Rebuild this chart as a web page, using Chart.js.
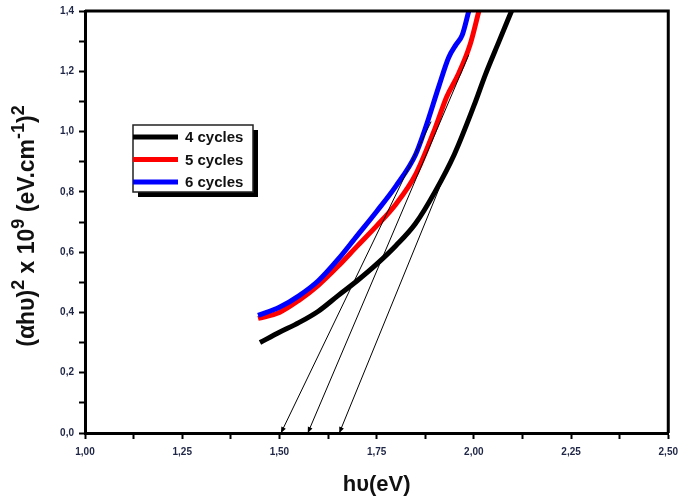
<!DOCTYPE html>
<html>
<head>
<meta charset="utf-8">
<script src="https://cdn.jsdelivr.net/npm/chart.js@4.4.0/dist/chart.umd.min.js"></script>
<style>
  html, body { margin: 0; padding: 0; background: #fff; }
  #wrap { width: 685px; height: 498px; }
</style>
</head>
<body>
<div id="wrap"><canvas id="chart" width="685" height="498"></canvas></div>
<script>
// hv (eV) against (alpha.h.v)^2 x 10^9
const hv4  = [1.45, 1.50, 1.55, 1.60, 1.65, 1.70, 1.75, 1.80, 1.85, 1.90, 1.95, 2.00, 2.03, 2.065, 2.097];
const abs4 = [0.300, 0.334, 0.366, 0.404, 0.455, 0.505, 0.560, 0.622, 0.695, 0.800, 0.925, 1.085, 1.190, 1.300, 1.400];

const hv5  = [1.445, 1.50, 1.55, 1.60, 1.65, 1.70, 1.75, 1.80, 1.85, 1.90, 1.93, 1.96, 1.99, 2.013];
const abs5 = [0.380, 0.400, 0.440, 0.490, 0.552, 0.620, 0.687, 0.760, 0.857, 1.010, 1.115, 1.190, 1.287, 1.400];

const hv6  = [1.445, 1.50, 1.55, 1.60, 1.65, 1.70, 1.75, 1.80, 1.85, 1.875, 1.91, 1.935, 1.955, 1.97, 1.987];
const abs6 = [0.390, 0.417, 0.455, 0.505, 0.575, 0.655, 0.735, 0.820, 0.923, 1.010, 1.150, 1.245, 1.290, 1.320, 1.400];

// extrapolated tangents, first point sits on the energy axis
const fit4X = [1.654, 1.936], fit4Y = [0, 0.891];
const fit5X = [1.573, 1.987], fit5Y = [0, 1.255];
const fit6X = [1.504, 1.890], fit6Y = [0, 1.033];

const seriesNames = ['4 cycles', '5 cycles', '6 cycles'];
const xTickLabels = ['1,00', '1,25', '1,50', '1,75', '2,00', '2,25', '2,50'];
const yTickLabels = ['0,0', '0,2', '0,4', '0,6', '0,8', '1,0', '1,2', '1,4'];

const pts = (xs, ys) => xs.map((x, i) => ({ x: x, y: ys[i] }));
const FONT = '"Liberation Sans", Arial, sans-serif';
const labelColor = '#1e2545';

const curve = (label, xs, ys, color, order) => ({
  label: label, data: pts(xs, ys), borderColor: color, backgroundColor: color,
  borderWidth: 5, pointRadius: 0, cubicInterpolationMode: 'monotone', order: order
});
const tangent = (xs, ys) => ({
  label: '', data: pts(xs, ys), borderColor: '#000', borderWidth: 1,
  pointRadius: 0, order: 0, isFit: true
});

// frame, titles, legend and arrow heads
const extras = {
  id: 'extras',
  afterDatasetsDraw(chart) {
    const ctx = chart.ctx;
    const a = chart.chartArea;
    ctx.save();

    // top + right frame
    ctx.strokeStyle = '#000';
    ctx.lineWidth = 3;
    ctx.beginPath();
    ctx.moveTo(a.left, a.top);
    ctx.lineTo(a.right, a.top);
    ctx.lineTo(a.right, a.bottom);
    ctx.stroke();

    // arrow heads at the bottom end of each tangent
    chart.data.datasets.forEach((ds, i) => {
      if (!ds.isFit) return;
      const p = chart.getDatasetMeta(i).data;
      const x0 = p[0].x, y0 = p[0].y, x1 = p[1].x, y1 = p[1].y;
      const ang = Math.atan2(y0 - y1, x0 - x1);
      const L = 6, W = 2.5;
      ctx.fillStyle = '#000';
      ctx.beginPath();
      ctx.moveTo(x0, y0);
      ctx.lineTo(x0 - L * Math.cos(ang) + W * Math.sin(ang), y0 - L * Math.sin(ang) - W * Math.cos(ang));
      ctx.lineTo(x0 - L * Math.cos(ang) - W * Math.sin(ang), y0 - L * Math.sin(ang) + W * Math.cos(ang));
      ctx.closePath();
      ctx.fill();
    });

    // legend
    const bx = 133, by = 125, bw = 120, bh = 67;
    ctx.fillStyle = '#000';
    ctx.fillRect(bx + 5, by + 5, bw, bh);
    ctx.fillStyle = '#fff';
    ctx.fillRect(bx, by, bw, bh);
    ctx.strokeStyle = '#222';
    ctx.lineWidth = 1.5;
    ctx.strokeRect(bx, by, bw, bh);
    ctx.font = 'bold 15px ' + FONT;
    ctx.textBaseline = 'middle';
    ctx.textAlign = 'left';
    seriesNames.forEach((name, i) => {
      const ds = chart.data.datasets.find(d => d.label === name);
      const yy = by + 12 + i * 22.5;
      ctx.strokeStyle = ds.borderColor;
      ctx.lineWidth = 5;
      ctx.beginPath();
      ctx.moveTo(bx, yy);
      ctx.lineTo(bx + 45, yy);
      ctx.stroke();
      ctx.fillStyle = '#111';
      ctx.fillText(name, bx + 52, yy + 1);
    });

    // x title
    ctx.fillStyle = '#111';
    ctx.font = 'bold 22px ' + FONT;
    ctx.textAlign = 'center';
    ctx.fillText('h\u03c5(eV)', (a.left + a.right) / 2, 485);

    // y title with superscripts
    const parts = [
      ['(\u03b1h\u03c5)', 0], ['2', 1], [' x 10', 0], ['9', 1],
      [' (eV.cm', 0], ['-1', 1], [')', 0], ['2', 1]
    ];
    const big = 'bold 23px ' + FONT, small = 'bold 18px ' + FONT;
    let total = 0;
    parts.forEach(p => { ctx.font = p[1] ? small : big; total += ctx.measureText(p[0]).width; });
    ctx.translate(28, (a.top + a.bottom) / 2 + 4);
    ctx.rotate(-Math.PI / 2);
    ctx.textAlign = 'left';
    let cx = -total / 2;
    parts.forEach(p => {
      ctx.font = p[1] ? small : big;
      ctx.fillText(p[0], cx, p[1] ? -9 : 0);
      cx += ctx.measureText(p[0]).width;
    });
    ctx.restore();
  }
};

new Chart(document.getElementById('chart'), {
  type: 'line',
  data: {
    datasets: [
      tangent(fit4X, fit4Y),
      tangent(fit5X, fit5Y),
      tangent(fit6X, fit6Y),
      curve(seriesNames[2], hv6, abs6, '#0000ff', 1),
      curve(seriesNames[1], hv5, abs5, '#ff0000', 2),
      curve(seriesNames[0], hv4, abs4, '#000000', 3)
    ]
  },
  options: {
    responsive: false,
    animation: false,
    devicePixelRatio: 1,
    layout: { padding: { left: 0, right: 14, top: 9, bottom: 0 } },
    plugins: { legend: { display: false }, tooltip: { enabled: false } },
    scales: {
      x: {
        type: 'linear', min: 1, max: 2.5,
        afterFit: s => { s.height = 65; },
        border: { color: '#000', width: 3 },
        grid: { drawOnChartArea: false, tickLength: 6, tickWidth: 2, tickColor: '#000' },
        ticks: {
          stepSize: 0.125, maxTicksLimit: 20, autoSkip: false, maxRotation: 0, padding: 7,
          color: labelColor, font: { family: FONT, size: 10, weight: 'bold' },
          callback: (v, i) => (i % 2 === 0 ? xTickLabels[i / 2] : '')
        }
      },
      y: {
        type: 'linear', min: 0, max: 1.4,
        afterFit: s => { s.width = 85; },
        border: { color: '#000', width: 3 },
        grid: { drawOnChartArea: false, tickLength: 6, tickWidth: 2, tickColor: '#000' },
        ticks: {
          stepSize: 0.1, maxTicksLimit: 20, autoSkip: false, padding: 5,
          color: labelColor, font: { family: FONT, size: 10, weight: 'bold' },
          callback: (v, i) => (i % 2 === 0 ? yTickLabels[i / 2] : '')
        }
      }
    }
  },
  plugins: [extras]
});
</script>
</body>
</html>
